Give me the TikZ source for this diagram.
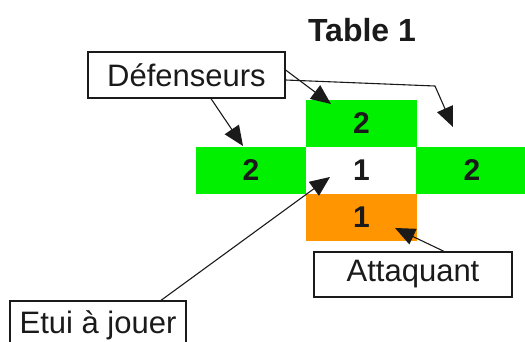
\documentclass[tikz,border=0pt]{standalone}
\usepackage{fontspec}
\setmainfont{Liberation Sans}
\usetikzlibrary{arrows.meta}
\definecolor{cellgreen}{HTML}{00F000}
\definecolor{cellorange}{HTML}{FF9500}
\definecolor{ink}{HTML}{1A1A1A}
\tikzset{
  cell/.style={minimum width=111pt, minimum height=47pt, inner sep=0pt, draw=none,
    font=\fontsize{30}{34}\selectfont\bfseries, text=ink},
  labelbox/.style={draw=ink, line width=1.3pt, fill=white, inner sep=0pt,
    font=\fontsize{31}{36}\selectfont, text=ink},
  arr/.style={draw=ink, line width=1.1pt, -{Triangle[length=20pt,width=17pt]}},
}
\begin{document}
\begin{tikzpicture}[x=1pt,y=-1pt]
\useasboundingbox (0,0) rectangle (525,341);
\clip (0,0) rectangle (525,341);
\node[font=\fontsize{32}{38}\selectfont\bfseries, text=ink] (title) at (362,30) {Table 1};
% cells
\node[cell, fill=cellgreen] (top) at (361.5,123.5) {2};
\node[cell, fill=cellgreen] (left) at (251,170.5) {2};
\node[cell, fill=white] (mid) at (361.5,170.5) {1};
\node[cell, fill=cellgreen, minimum width=112pt] (right) at (472,170.5) {2};
\node[cell, fill=cellorange] (bot) at (361.5,217.5) {1};
% label boxes
\node[labelbox, minimum width=197pt, minimum height=46pt] (def) at (186.5,75) {Défenseurs};
\node[labelbox, minimum width=198pt, minimum height=45pt] (att) at (413,274.5) {Attaquant};
\node[labelbox, minimum width=176pt, minimum height=48pt] (etui) at (98,325) {Etui à jouer};
% arrow targets
\coordinate (tL) at (243,146);
\coordinate (tT) at (331,104);
\coordinate (bend) at (435,86);
\coordinate (tR) at (453,127);
\coordinate (tM) at (330,177);
\coordinate (tB) at (395,228);
% arrows
\draw[arr] (def.south -| 211,0) -- (tL);
\draw[arr] ([yshift=5pt]def.east) -- (tT);
\draw[arr] ([yshift=-5pt]def.east) -- (bend) -- (tR);
\draw[arr] (etui.north -| 161,0) -- (tM);
\draw[arr] (att.north -| 444,0) -- (tB);
\end{tikzpicture}
\end{document}
